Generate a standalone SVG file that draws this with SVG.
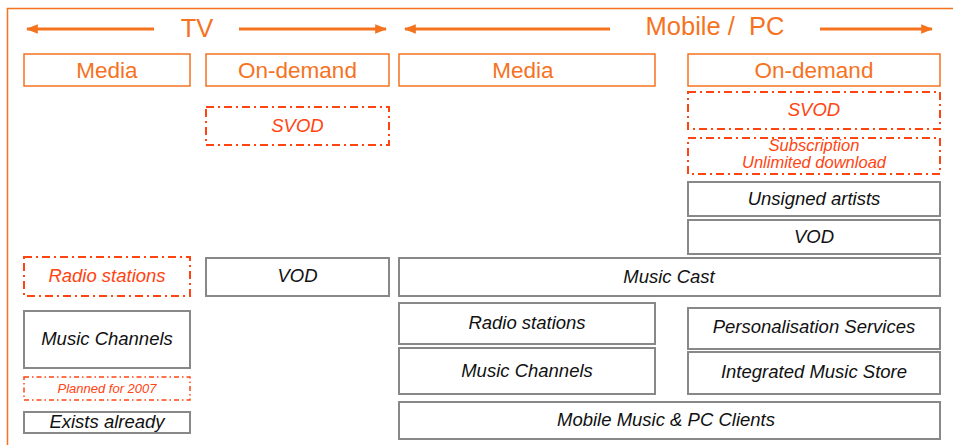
<svg xmlns="http://www.w3.org/2000/svg" width="953" height="445" viewBox="0 0 953 445">
<defs>
<marker id="ah" viewBox="0 0 10 10" refX="9" refY="5" markerWidth="4" markerHeight="4" orient="auto-start-reverse" markerUnits="strokeWidth"><path d="M0,1 L10,5 L0,9 z" fill="#F5731F"/></marker>
<style>
.hdr rect{fill:#fff;stroke:#F5731F;stroke-width:1.5}
.hdr text{fill:#F5731F;font:22.5px "Liberation Sans",Arial,sans-serif;text-anchor:middle}
.ttl{fill:#F5731F;font:25.5px "Liberation Sans",Arial,sans-serif;text-anchor:middle}
.dash rect{fill:#fff;stroke:#FF4411;stroke-width:2;stroke-dasharray:8 4 2 4}
.dash text{fill:#FF4411;font:italic 18.5px "Liberation Sans",Arial,sans-serif;text-anchor:middle}
.box rect{fill:#fff;stroke:#888;stroke-width:2}
.box text{fill:#111;font:italic 18.5px "Liberation Sans",Arial,sans-serif;text-anchor:middle}
.arr{stroke:#F5731F;stroke-width:3;fill:none}
</style>
</defs>
<rect width="953" height="445" fill="#fff"/>
<path d="M7.5,445 V8.5 H953" fill="none" stroke="#F5731F" stroke-width="1.5"/>
<g id="connectors">
<line class="arr" x1="154" y1="29" x2="27" y2="29" marker-end="url(#ah)"/>
<line class="arr" x1="239" y1="29" x2="386" y2="29" marker-end="url(#ah)"/>
<line class="arr" x1="610" y1="29" x2="405" y2="29" marker-end="url(#ah)"/>
<line class="arr" x1="820" y1="29" x2="932" y2="29" marker-end="url(#ah)"/>
</g>
<text class="ttl" x="197" y="37">TV</text>
<text class="ttl" x="715" y="35" xml:space="preserve">Mobile /  PC</text>
<g id="hdr-tv-media" class="hdr"><rect x="24" y="54" width="166" height="32"/><text x="107" y="78">Media</text></g>
<g id="hdr-tv-ondemand" class="hdr"><rect x="206" y="54" width="183" height="32"/><text x="297.5" y="78">On-demand</text></g>
<g id="hdr-m-media" class="hdr"><rect x="399" y="54" width="256" height="32"/><text x="523" y="78">Media</text></g>
<g id="hdr-m-ondemand" class="hdr"><rect x="688" y="54" width="252" height="32"/><text x="814" y="78">On-demand</text></g>
<g id="tv-svod" class="dash"><rect x="206" y="107" width="183" height="38"/><text x="297.5" y="132">SVOD</text></g>
<g id="m-svod" class="dash"><rect x="688" y="92" width="252" height="37"/><text x="814" y="116">SVOD</text></g>
<g id="m-subscription" class="dash"><rect x="688" y="138" width="252" height="36"/><text x="814" y="151" style="font-size:16.5px">Subscription</text><text x="814" y="168" style="font-size:16.5px">Unlimited download</text></g>
<g id="m-unsigned" class="box"><rect x="688" y="182" width="252" height="34"/><text x="814" y="205">Unsigned artists</text></g>
<g id="m-vod" class="box"><rect x="688" y="220" width="252" height="34"/><text x="814" y="243">VOD</text></g>
<g id="tv-radio" class="dash"><rect x="24" y="257" width="166" height="39"/><text x="107" y="282">Radio stations</text></g>
<g id="tv-vod" class="box"><rect x="206" y="258" width="183" height="38"/><text x="297.5" y="282">VOD</text></g>
<g id="m-musiccast" class="box"><rect x="399" y="258" width="541" height="38"/><text x="669" y="283">Music Cast</text></g>
<g id="tv-channels" class="box"><rect x="24" y="311" width="166" height="57"/><text x="107" y="345">Music Channels</text></g>
<g id="legend-planned" class="dash"><rect x="24" y="377" width="166" height="23" style="stroke-width:1.5;stroke-dasharray:5 3 1.5 3"/><text x="107" y="393" style="font-size:13px">Planned for 2007</text></g>
<g id="legend-exists" class="box"><rect x="24" y="412" width="166" height="21"/><text x="107" y="428">Exists already</text></g>
<g id="m-radio" class="box"><rect x="399" y="303" width="256" height="41"/><text x="527" y="329">Radio stations</text></g>
<g id="m-channels" class="box"><rect x="399" y="348" width="256" height="46"/><text x="527" y="377">Music Channels</text></g>
<g id="m-personal" class="box"><rect x="688" y="308" width="252" height="41"/><text x="814" y="333">Personalisation Services</text></g>
<g id="m-store" class="box"><rect x="688" y="352" width="252" height="42"/><text x="814" y="378">Integrated Music Store</text></g>
<g id="m-clients" class="box"><rect x="399" y="402" width="541" height="37"/><text x="666" y="426">Mobile Music &amp; PC Clients</text></g>
</svg>
